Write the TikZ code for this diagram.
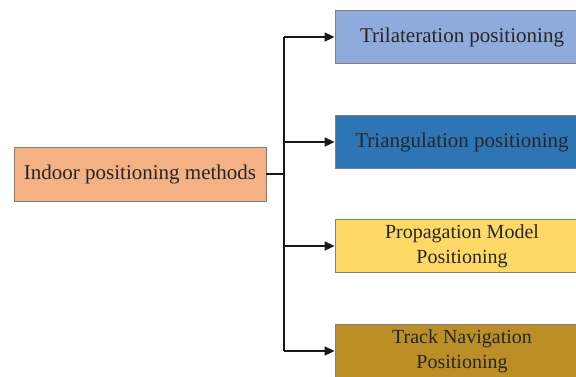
\documentclass[tikz,border=0pt]{standalone}
\usepackage{fontspec}
\setmainfont{Liberation Serif}
\usetikzlibrary{arrows.meta}
\definecolor{rootfill}{HTML}{F4B183}
\definecolor{trifill}{HTML}{8FAADC}
\definecolor{angfill}{HTML}{2E75B6}
\definecolor{propfill}{HTML}{FFD966}
\definecolor{trackfill}{HTML}{BC8F26}
\definecolor{boxedge}{HTML}{7F7F7F}
\tikzset{
  methodbox/.style={draw=boxedge, line width=0.8pt, rectangle, minimum height=53pt,
    inner sep=0pt, align=center, font=\fontsize{21}{25}\selectfont, text=black!85},
  twoline/.style={font=\fontsize{20}{25}\selectfont},
  link/.style={line width=1.6pt, black!90},
  arrowlink/.style={link, -{Triangle[length=10pt,width=9pt]}}
}
\begin{document}
\begin{tikzpicture}[x=1pt,y=-1pt]
  \useasboundingbox (0,0) rectangle (576,376);
  \clip (0,0) rectangle (576,376);
  % root box
  \node[methodbox, fill=rootfill, minimum width=252pt, minimum height=54pt] (root) at (140,174) {Indoor positioning methods};
  % method boxes (they run past the right edge)
  \node[methodbox, fill=trifill, minimum width=254pt] (tri) at (462,37) {Trilateration positioning};
  \node[methodbox, fill=angfill, minimum width=254pt] (ang) at (462,142) {Triangulation positioning};
  \node[methodbox, twoline, fill=propfill, minimum width=254pt] (prop) at (462,246) {Propagation Model\\Positioning};
  \node[methodbox, twoline, fill=trackfill, minimum width=254pt] (track) at (462,351) {Track Navigation\\Positioning};
  % trunk
  \coordinate (junction) at (284,174);
  \draw[link] (root.east) -- (junction);
  \draw[link] (284,37) -- (284,351);
  \foreach \t in {tri,ang,prop,track}
    \draw[arrowlink] (284,0 |- \t.west) -- (\t.west);
\end{tikzpicture}
\end{document}
